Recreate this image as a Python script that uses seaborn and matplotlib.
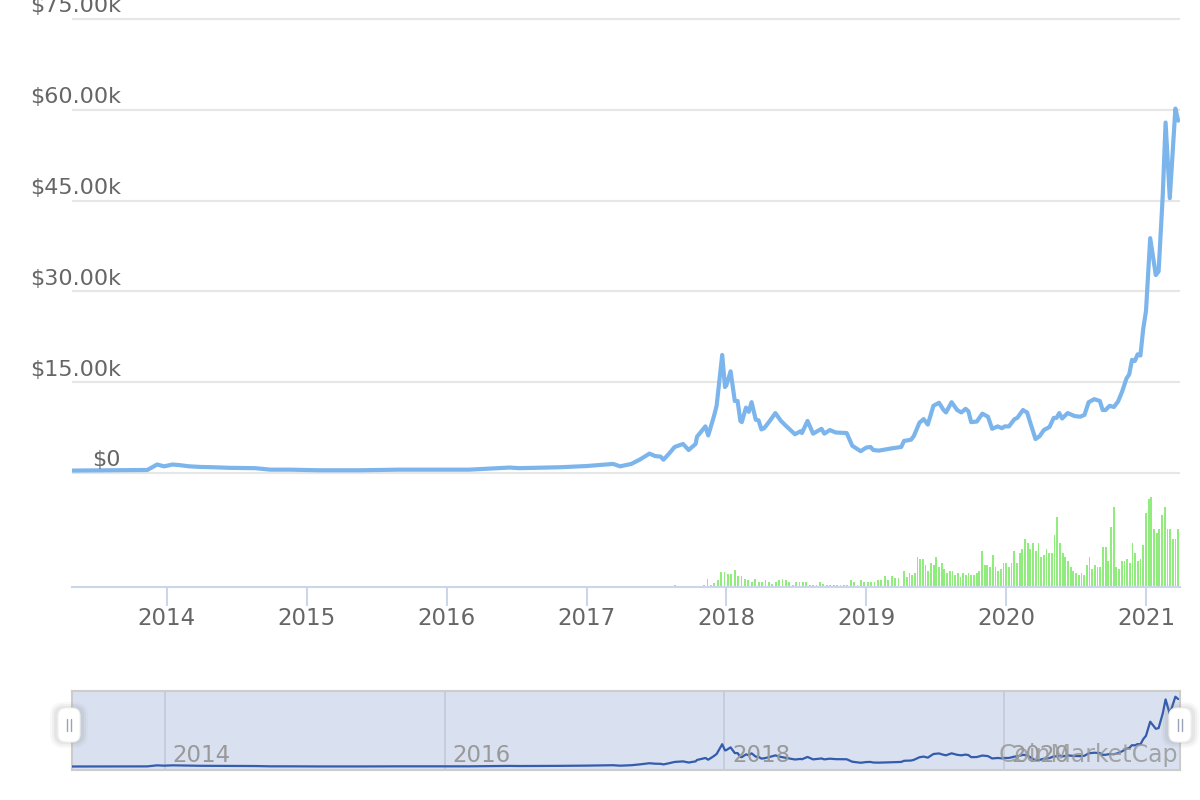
import numpy as np
import matplotlib
matplotlib.use("Agg")
import matplotlib.pyplot as plt
import seaborn as sns
from matplotlib.patches import FancyBboxPatch
from matplotlib.transforms import IdentityTransform, blended_transform_factory

# price (thousand USD), x in decimal years
years = [2013.32, 2013.60, 2013.86, 2013.93, 2013.98, 2014.04, 2014.09, 2014.16, 2014.24, 2014.33,
         2014.45, 2014.63, 2014.74, 2014.88, 2015.09, 2015.38, 2015.66, 2015.95, 2016.16, 2016.45,
         2016.52, 2016.81, 2017.00, 2017.19, 2017.24, 2017.32, 2017.38, 2017.45, 2017.49, 2017.53,
         2017.55, 2017.59, 2017.63, 2017.69, 2017.73, 2017.78, 2017.79, 2017.85, 2017.87, 2017.91,
         2017.93, 2017.97, 2017.99, 2018.00, 2018.03, 2018.06, 2018.08, 2018.10, 2018.11, 2018.14,
         2018.16, 2018.18, 2018.21, 2018.23, 2018.25, 2018.27, 2018.31, 2018.35, 2018.39, 2018.43,
         2018.49, 2018.53, 2018.54, 2018.58, 2018.62, 2018.68, 2018.70, 2018.74, 2018.78, 2018.86,
         2018.90, 2018.96, 2019.00, 2019.03, 2019.05, 2019.09, 2019.19, 2019.25, 2019.27, 2019.32,
         2019.34, 2019.38, 2019.41, 2019.44, 2019.48, 2019.52, 2019.55, 2019.57, 2019.61, 2019.65,
         2019.68, 2019.71, 2019.73, 2019.75, 2019.79, 2019.83, 2019.87, 2019.90, 2019.94, 2019.97,
         2019.99, 2020.02, 2020.06, 2020.08, 2020.12, 2020.15, 2020.17, 2020.21, 2020.24, 2020.27,
         2020.31, 2020.34, 2020.36, 2020.38, 2020.40, 2020.44, 2020.49, 2020.53, 2020.56, 2020.59,
         2020.63, 2020.67, 2020.69, 2020.71, 2020.74, 2020.77, 2020.80, 2020.83, 2020.86, 2020.88,
         2020.90, 2020.92, 2020.94, 2020.96, 2020.98, 2021.00, 2021.03, 2021.07, 2021.09, 2021.12,
         2021.14, 2021.17, 2021.21, 2021.23]
price_k = [0.4, 0.45, 0.5, 1.4, 1.1, 1.4, 1.3, 1.1, 1.0, 0.95,
           0.85, 0.8, 0.55, 0.55, 0.45, 0.45, 0.55, 0.55, 0.55, 0.9,
           0.8, 0.95, 1.15, 1.5, 1.1, 1.5, 2.2, 3.2, 2.8, 2.7,
           2.2, 3.2, 4.3, 4.8, 3.8, 4.8, 6.0, 7.7, 6.2, 9.3,
           11.1, 19.5, 14.2, 14.5, 16.8, 11.9, 11.9, 8.6, 8.4, 10.8,
           10.1, 11.7, 8.8, 8.7, 7.2, 7.4, 8.6, 9.9, 8.6, 7.7,
           6.4, 6.9, 6.6, 8.6, 6.5, 7.3, 6.5, 7.1, 6.7, 6.6,
           4.5, 3.6, 4.2, 4.3, 3.8, 3.7, 4.1, 4.3, 5.3, 5.5,
           6.1, 8.3, 8.9, 8.0, 11.1, 11.6, 10.5, 10.0, 11.7, 10.4,
           10.0, 10.6, 10.2, 8.4, 8.5, 9.8, 9.3, 7.3, 7.7, 7.4,
           7.7, 7.7, 8.9, 9.1, 10.4, 10.0, 8.5, 5.6, 6.1, 7.1,
           7.6, 9.1, 9.1, 9.9, 9.0, 9.9, 9.4, 9.3, 9.6, 11.7,
           12.2, 11.9, 10.4, 10.4, 11.1, 10.9, 11.8, 13.5, 15.6, 16.3,
           18.7, 18.5, 19.6, 19.4, 23.8, 26.8, 38.8, 32.7, 33.3, 46.0,
           57.9, 45.4, 60.2, 58.2]

# volume bars (billion USD, hidden axis), three stretches of weekly-ish bars
vol_first = [2.3, 0, 0, 0, 0, 0, 0, 0, 0]
vol_2018 = [2.3, 8.3, 2.3, 4, 6.7, 14.7, 14.7, 12.7, 12.7, 16.7, 10.7, 10.7, 8.3, 6.7, 4.7, 8.3,
            4.7, 4.7, 6.7, 4.7, 3.3, 4.7, 6.7, 8.3, 6.7, 4.7, 2.3, 4.7, 4.7, 4.7, 4.7, 2.3,
            2.3, 2.3, 4.7, 3.3, 2.3, 2.3, 2.3, 2.3, 2.3, 2.3, 2.3, 6.7, 4.7, 2.3, 6.7, 4.7,
            4.7, 4.7, 4.7, 6.7, 6.7, 10.7, 6.7, 10.7, 8.7, 8.7]
vol_2019 = [16, 10, 14, 12, 14, 30, 28, 28, 22, 16, 24, 22, 30, 20, 24, 18, 14, 16, 16, 12,
            14, 10, 14, 12, 14, 12, 12, 14, 16, 36, 22, 22, 20, 32, 20, 16, 18, 24, 24, 20,
            24, 36, 24, 34, 38, 48, 44, 38, 44, 36, 44, 30, 32, 38, 34, 34, 52, 70, 44, 34,
            30, 26, 20, 16, 14, 12, 14, 12, 22, 30, 18, 22, 20, 20, 40, 40, 26, 60, 80, 20,
            18, 26, 26, 28, 24, 44, 34, 26, 28, 42, 74, 88, 90, 58, 54, 58, 72, 80, 58, 58,
            48, 48, 58]
vol_spans = [(2017.63, 2017.82), (2017.84, 2019.23), (2019.27, 2021.23)]

tick_years = [2014, 2015, 2016, 2017, 2018, 2019, 2020, 2021]
nav_years = [2014, 2016, 2018, 2020]
price_ticks = [0, 15, 30, 45, 60, 75]
price_labels = ["$0", "$15.00k", "$30.00k", "$45.00k", "$60.00k", "$75.00k"]

sns.set_theme(style="white")
plt.rcParams['font.family'] = ['DejaVu Sans']

W, H = 1200, 800
fig = plt.figure(figsize=(12, 8), dpi=100)
fig.patch.set_facecolor("white")
xlim = (2013.3214, 2021.243)
L, Wd = 72 / W, 1108 / W

# main price panel
ax = fig.add_axes([L, 1 - 480 / H, Wd, 470 / H])
ax.set_xlim(*xlim)
ax.set_ylim(-7 / 6.0533, 75 + 9 / 6.0533)
for v in price_ticks:
    ax.axhline(v, color="#e6e6e6", lw=1.5, zorder=0)
sns.lineplot(x=years, y=price_k, ax=ax, color="#7cb5ec", lw=3, sort=True, zorder=3)
trans = blended_transform_factory(ax.transAxes, ax.transData)
for v, lab in zip(price_ticks, price_labels):
    ax.text((121 - 72) / 1108, v + 1.1, lab, transform=trans, ha="right", va="baseline",
            fontsize=16, color="#666666", clip_on=False, zorder=4)
ax.set_xticks([])
ax.set_yticks([])
for s in ax.spines.values():
    s.set_visible(False)
ax.patch.set_alpha(0)

# volume panel
axv = fig.add_axes([L, 1 - 587 / H, Wd, 107 / H])
for vals, (a, b) in zip([vol_first, vol_2018, vol_2019], vol_spans):
    xs = np.linspace(a, b, len(vals))
    axv.bar(xs, vals, width=0.013, color="#90ed7d", linewidth=0)
axv.set_ylim(0, 107)
axv.set_yticks([])
for s in ["top", "left", "right"]:
    axv.spines[s].set_visible(False)
axv.spines["bottom"].set_color("#ccd6eb")
axv.spines["bottom"].set_linewidth(1.5)
axv.set_xticks(tick_years)
axv.set_xticklabels([str(y) for y in tick_years])
axv.tick_params(axis="x", direction="out", length=13.5, width=1.5, color="#ccd6eb",
                labelcolor="#666666", labelsize=16.5, pad=1, bottom=True)
axv.set_xlim(*xlim)
axv.patch.set_alpha(0)

# navigator
axn = fig.add_axes([L, 1 - 770 / H, Wd, 79 / H])
axn.set_facecolor("#d9e0ef")
axn.set_xlim(*xlim)
axn.set_ylim(-2.6, 65.1)
for y in nav_years:
    axn.axvline(y - 0.015, color="#c2cad9", lw=1.2, zorder=1)
sns.lineplot(x=years, y=price_k, ax=axn, color="#335cad", lw=1.6, zorder=3)
ntrans = blended_transform_factory(axn.transData, axn.transAxes)
for y in nav_years:
    axn.text(y + 0.04, 0.1, str(y), transform=ntrans, ha="left", va="baseline",
             fontsize=16.5, color="#999999", zorder=4)
axn.text(1 - 2 / 1108, 0.1, "CoinMarketCap", transform=axn.transAxes, ha="right",
         va="baseline", fontsize=17, color="#999999", alpha=0.85, zorder=5)
axn.set_xticks([])
axn.set_yticks([])
for s in axn.spines.values():
    s.set_color("#cccccc")
    s.set_linewidth(1.5)

# navigator handles (display pixels, origin bottom-left)
def handle(cx):
    y0 = H - 742
    for k, a in [(6, 0.05), (4, 0.07), (2, 0.1)]:
        fig.add_artist(FancyBboxPatch((cx - 13 - k, y0 - k), 26 + 2 * k, 34 + 2 * k,
                                      boxstyle="round,pad=0,rounding_size=%d" % (8 + k),
                                      transform=IdentityTransform(), fc="#888888", ec="none",
                                      alpha=a, zorder=10))
    fig.add_artist(FancyBboxPatch((cx - 11, y0), 22, 34, boxstyle="round,pad=0,rounding_size=8",
                                  transform=IdentityTransform(), fc="white", ec="#f0f0f0",
                                  lw=0.8, zorder=11))
    for dx in (-2, 2):
        fig.add_artist(plt.Line2D([cx + dx, cx + dx], [y0 + 11, y0 + 23], color="#9aa3b5",
                                  lw=1.0, transform=IdentityTransform(), zorder=12))

handle(69)
handle(1180)

fig.savefig("out.png", dpi=100, facecolor="white")
